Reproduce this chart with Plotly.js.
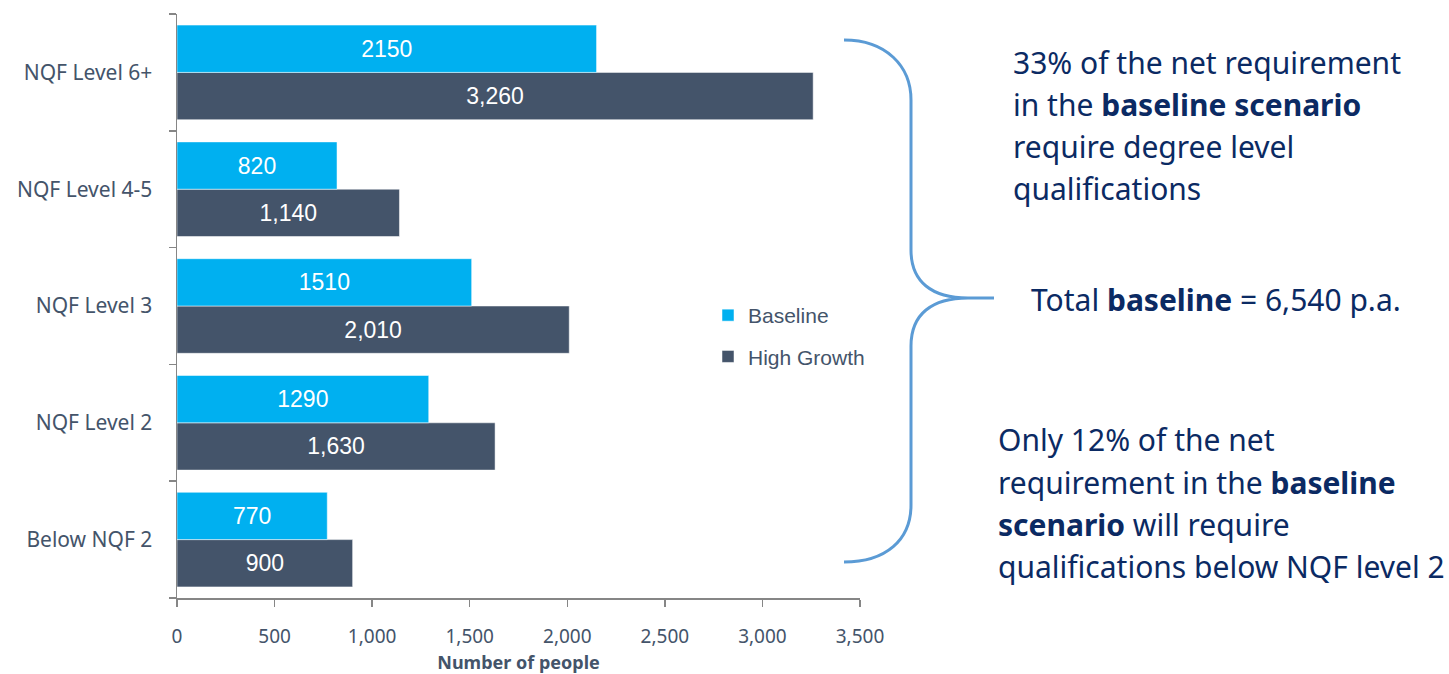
<!DOCTYPE html>
<html>
<head>
<meta charset="utf-8">
<script src="https://cdn.plot.ly/plotly-3.0.1.min.js"></script>
<style>html,body{margin:0;padding:0;background:#fff;}#chart{width:1449px;height:674px;}</style>
</head>
<body>
<div id="chart"></div>
<script>
// ---- data ----
const categories = ['Below NQF 2', 'NQF Level 2', 'NQF Level 3', 'NQF Level 4-5', 'NQF Level 6+'];
const baseline = [770, 1290, 1510, 820, 2150];
const highGrowth = [900, 1630, 2010, 1140, 3260];
const seriesNames = ['Baseline', 'High Growth'];
const xTickValues = [0, 500, 1000, 1500, 2000, 2500, 3000, 3500];
const noteTop = ['33% of the net requirement', 'in the <b>baseline scenario</b>', 'require degree level', 'qualifications'];
const noteMid = ['Total <b>baseline</b> = 6,540 p.a.'];
const noteBottom = ['Only 12% of the net', 'requirement in the <b>baseline</b>', '<b>scenario</b> will require', 'qualifications below NQF level 2'];

// ---- layout geometry (pixels) ----
const W = 1449, H = 674;
const L = 177, R = 860, T = 14, B = 598;
const px = x => (x - L) / (R - L);
const py = y => (B - y) / (B - T);

const textColor = '#44546A';
const navy = '#0B2A63';

const traces = [
  {
    type: 'bar', orientation: 'h', name: seriesNames[1], legendgroup: 'hg', legendrank: 2,
    y: categories, x: highGrowth,
    marker: {color: '#44546A', line: {color: '#ffffff', width: 0.5}},
    texttemplate: '%{x:,}', textposition: 'inside', insidetextanchor: 'middle',
    textangle: 0, constraintext: 'none',
    textfont: {family: 'Liberation Sans, Arial', size: 23, color: '#ffffff'},
    hoverinfo: 'x+y'
  },
  {
    type: 'bar', orientation: 'h', name: seriesNames[0], legendgroup: 'bl', legendrank: 1,
    y: categories, x: baseline,
    marker: {color: '#00B0F0', line: {color: '#ffffff', width: 0.5}},
    texttemplate: '%{x:d}', textposition: 'inside', insidetextanchor: 'middle',
    textangle: 0, constraintext: 'none',
    textfont: {family: 'Liberation Sans, Arial', size: 23, color: '#ffffff'},
    hoverinfo: 'x+y'
  }
];

function P(x, y) { return px(x).toFixed(5) + ',' + py(y).toFixed(5); }
const bracePath =
  'M' + P(844, 40) +
  ' C' + P(886, 40) + ' ' + P(911, 66) + ' ' + P(911, 100) +
  ' L' + P(911, 250) +
  ' C' + P(911, 282) + ' ' + P(932, 298) + ' ' + P(968, 298) +
  ' L' + P(994, 298) +
  ' M' + P(968, 298) +
  ' C' + P(932, 298) + ' ' + P(911, 314) + ' ' + P(911, 346) +
  ' L' + P(911, 505) +
  ' C' + P(911, 540) + ' ' + P(886, 562) + ' ' + P(844, 562);

const noteFont = {family: 'Noto Sans, DejaVu Sans', size: 30, color: navy};
const annotations = [];
const addLines = (lines, x, y0, dy) => lines.forEach((t, i) => annotations.push({
  xref: 'paper', yref: 'paper', x: px(x), y: py(y0 + i * dy),
  xanchor: 'left', yanchor: 'middle', showarrow: false, align: 'left',
  text: t, font: noteFont
}));
addLines(noteTop, 1011, 62, 42.3);
addLines(noteMid, 1029, 299, 0);
addLines(noteBottom, 996, 440, 42);

const layout = {
  width: W, height: H,
  margin: {l: L, r: W - R, t: T, b: H - B, pad: 0},
  paper_bgcolor: '#ffffff', plot_bgcolor: '#ffffff',
  barmode: 'group', bargap: 0.19, bargroupgap: 0,
  showlegend: true,
  legend: {
    x: px(708), y: py(295), xanchor: 'left', yanchor: 'top',
    traceorder: 'grouped', itemwidth: 30, tracegroupgap: 11,
    font: {family: 'Liberation Sans, Arial', size: 21, color: textColor},
    bgcolor: 'rgba(0,0,0,0)'
  },
  xaxis: {
    range: [0, 3500], tickvals: xTickValues, tickformat: ',',
    showgrid: false, zeroline: false,
    showline: true, linecolor: '#868686', linewidth: 1.5,
    ticks: 'outside', ticklen: 7, tickcolor: '#868686', tickwidth: 1.5,
    ticklabelstandoff: 14,
    tickfont: {family: 'Noto Sans, DejaVu Sans', size: 19, color: textColor},
    title: {text: '<b>Number of people</b>', font: {family: 'Noto Sans, DejaVu Sans', size: 18, color: textColor}, standoff: 8},
    fixedrange: true
  },
  yaxis: {
    type: 'category', categoryorder: 'array', categoryarray: categories,
    showgrid: false, zeroline: false,
    showline: true, linecolor: '#868686', linewidth: 1.5,
    ticks: 'outside', ticklen: 7, tickcolor: '#868686', tickwidth: 1.5,
    tickson: 'boundaries',
    ticklabelstandoff: 19,
    tickfont: {family: 'Noto Sans, DejaVu Sans', size: 21, color: textColor},
    fixedrange: true
  },
  shapes: [{
    type: 'path', xref: 'paper', yref: 'paper', path: bracePath,
    line: {color: '#5B9BD5', width: 3}
  }],
  annotations: annotations
};

Plotly.newPlot('chart', traces, layout, {displayModeBar: false, staticPlot: true});
</script>
</body>
</html>
